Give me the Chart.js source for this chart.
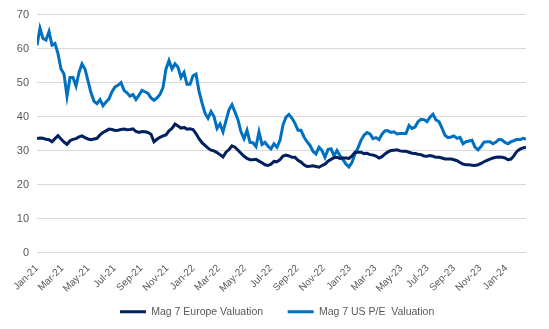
<!DOCTYPE html>
<html>
<head>
<meta charset="utf-8">
<script src="https://cdn.jsdelivr.net/npm/chart.js@4/dist/chart.umd.min.js"></script>
<style>
  html, body { margin: 0; padding: 0; background: #ffffff; }
  #wrap { width: 549px; height: 329px; position: relative; }
</style>
</head>
<body>
<div id="wrap"><canvas id="chart"></canvas></div>
<script>
// Weekly valuation readings, first week of January 2021 through mid-February 2024
const europeValuation = [
  33.5, 33.7, 33.6, 33.3, 33.2, 32.6, 33.5, 34.4, 33.4, 32.5, 31.8, 32.9, 33.3, 33.5, 34, 34.3, 33.8, 33.4, 33.2, 33.4,
  33.6, 34.6, 35.3, 35.8, 36.3, 36.2, 35.9, 36, 36.2, 36.3, 36.1, 36.2, 36.4, 35.6, 35.3, 35.6, 35.5, 35.3, 34.8, 32.6,
  33.3, 33.9, 34.3, 34.6, 35.8, 36.5, 37.8, 37.2, 36.6, 36.8, 36.3, 36.4, 36.2, 35, 33.5, 32.3, 31.5,
  30.7, 30.1, 29.9, 29.4, 28.8, 28.1, 29.5, 30.3, 31.4, 31, 30.1, 29.2, 28.3, 27.7, 27.3, 27.3, 27.4, 26.9, 26.4, 25.8,
  25.6, 26, 26.8, 26.7, 27.3, 28.4, 28.7, 28.4, 28, 28, 27.1, 26.6, 25.8, 25.3, 25.4, 25.5, 25.3, 25.1, 25.6, 26,
  26.9, 27.4, 27.9, 28, 27.7, 27.8, 27.8, 27.7, 28.4, 29.5, 29.5, 29.5, 29.1, 29.2,
  28.8, 28.7, 28.4, 27.8, 28.2, 29, 29.6, 30, 30.1, 30.2, 29.9, 29.8, 29.8, 29.5, 29.2, 29.1, 28.9, 28.8, 28.4, 28.3,
  28.5, 28.3, 28, 28, 27.8, 27.5, 27.5, 27.5, 27.3, 27, 26.5, 26, 25.8, 25.8, 25.7, 25.6, 25.8, 26.2, 26.7, 27.1,
  27.5, 27.8, 28, 28.1, 28, 27.8, 27.3, 27.5, 28.5, 29.8, 30.4, 30.8, 31
];

const usPeValuation = [
  61, 66, 63, 62.5, 65, 61, 61.5, 58.5, 54, 52.5, 46, 51.5, 51.5, 49, 53, 55.5, 54, 50.5, 47, 44.5,
  43.8, 45, 43.2, 44.3, 45.2, 47.3, 48.7, 49.2, 50, 47.7, 47, 46, 46.5, 45, 46.3, 47.7, 47.3, 46.8, 45.5, 44.8,
  45.5, 46.5, 48.5, 54, 56.5, 54, 55.5, 54.5, 51.5, 53, 49.5, 49.5, 52, 52.5, 47.5, 44, 41,
  39.5, 41.5, 40, 36.5, 37.8, 35.5, 38.8, 42, 43.5, 41.3, 39, 35.5, 33.5, 36, 32.4, 32.3, 31.2, 35.5, 31.8, 32.4,
  31.3, 30.5, 32, 31, 33, 37.5, 39.8, 40.6, 39.5, 38, 36, 36, 34, 32.6, 31.5, 29.8, 29, 31, 30, 28,
  30.3, 30.5, 28.5, 30, 28.5, 27.3, 26, 25.2, 26.5, 29, 30.8, 33, 34.5, 35.3,
  34.9, 33.5, 33.8, 33.2, 34.8, 35.8, 35.8, 35.3, 35.5, 34.9, 35, 35, 35, 37.4, 36.5, 36.9, 38.5, 39.2, 39.1, 38.5,
  39.8, 40.7, 39, 38.5, 36.6, 34.5, 33.8, 34, 34.3, 33.6, 33.9, 32, 32.6, 32.8, 33, 31, 30.2, 31.2, 32.5, 32.6,
  32.6, 32, 32.5, 33.3, 33.1, 32.4, 32, 32.6, 32.9, 33.3, 33.2, 33.6, 33.4
];

// Axis labels, every second month
const tickLabels = [
  'Jan-21', 'Mar-21', 'May-21', 'Jul-21', 'Sep-21', 'Nov-21',
  'Jan-22', 'Mar-22', 'May-22', 'Jul-22', 'Sep-22', 'Nov-22',
  'Jan-23', 'Mar-23', 'May-23', 'Jul-23', 'Sep-23', 'Nov-23', 'Jan-24'
];
const yTicks = [0, 10, 20, 30, 40, 50, 60, 70];

const seriesNames = ['Mag 7 Europe Valuation', 'Mag 7 US P/E  Valuation'];

// x positions are days counted from 1 Jan 2021, one reading per week
const DAY = 86400000;
const origin = Date.UTC(2021, 0, 1);
const weekDays = europeValuation.map((_, i) => i * 7);
const monthIdx = { Jan: 0, Feb: 1, Mar: 2, Apr: 3, May: 4, Jun: 5, Jul: 6, Aug: 7, Sep: 8, Oct: 9, Nov: 10, Dec: 11 };
const tickDays = tickLabels.map(l => {
  const [m, y] = l.split('-');
  return Math.round((Date.UTC(2000 + Number(y), monthIdx[m], 1) - origin) / DAY);
});
const labelForDay = {};
tickDays.forEach((d, i) => { labelForDay[d] = tickLabels[i]; });

const toPoints = arr => arr.map((v, i) => ({ x: weekDays[i], y: v }));

Chart.defaults.font.family = "'Liberation Sans', Arial, sans-serif";
Chart.defaults.font.size = 10;
Chart.defaults.color = '#595959';

new Chart(document.getElementById('chart'), {
  type: 'line',
  data: {
    datasets: [
      {
        label: seriesNames[0],
        data: toPoints(europeValuation),
        borderColor: '#002060',
        backgroundColor: '#002060',
        borderWidth: 3,
        pointRadius: 0,
        tension: 0
      },
      {
        label: seriesNames[1],
        data: toPoints(usPeValuation),
        borderColor: '#0070C0',
        backgroundColor: '#0070C0',
        borderWidth: 3,
        pointRadius: 0,
        tension: 0
      }
    ]
  },
  options: {
    responsive: true,
    maintainAspectRatio: false,
    animation: false,
    layout: { padding: { left: 0, right: 23, top: 10, bottom: 2 } },
    plugins: {
      tooltip: { enabled: false },
      legend: {
        position: 'bottom',
        fullSize: false,
        labels: {
          boxWidth: 26,
          boxHeight: 3,
          padding: 10,
          color: '#595959',
          font: { size: 10.5 },
          generateLabels(chart) {
            const items = Chart.defaults.plugins.legend.labels.generateLabels(chart);
            // widen the gap between entries while keeping the vertical padding tight
            items.forEach((it, i) => {
              it.lineWidth = 0;
              it.text += i < items.length - 1 ? '     ' : '   ';
            });
            return items;
          }
        }
      }
    },
    scales: {
      x: {
        type: 'linear',
        min: 0,
        max: weekDays[weekDays.length - 1],
        grid: { display: false },
        border: { display: false },
        afterBuildTicks(scale) {
          scale.ticks = tickDays.map(v => ({ value: v }));
        },
        afterFit(scale) { scale.height = 44; },
        ticks: {
          autoSkip: false,
          minRotation: 45,
          maxRotation: 45,
          padding: 2,
          color: '#595959',
          font: { size: 10 },
          callback: v => labelForDay[v] || ''
        }
      },
      y: {
        min: 0,
        max: 70,
        afterBuildTicks(scale) {
          scale.ticks = yTicks.map(v => ({ value: v }));
        },
        afterFit(scale) { scale.width = 37; },
        grid: { color: '#d9d9d9', lineWidth: 1, drawTicks: false },
        border: { display: false },
        ticks: {
          padding: 8,
          color: '#595959',
          font: { size: 11 }
        }
      }
    }
  }
});
</script>
</body>
</html>
